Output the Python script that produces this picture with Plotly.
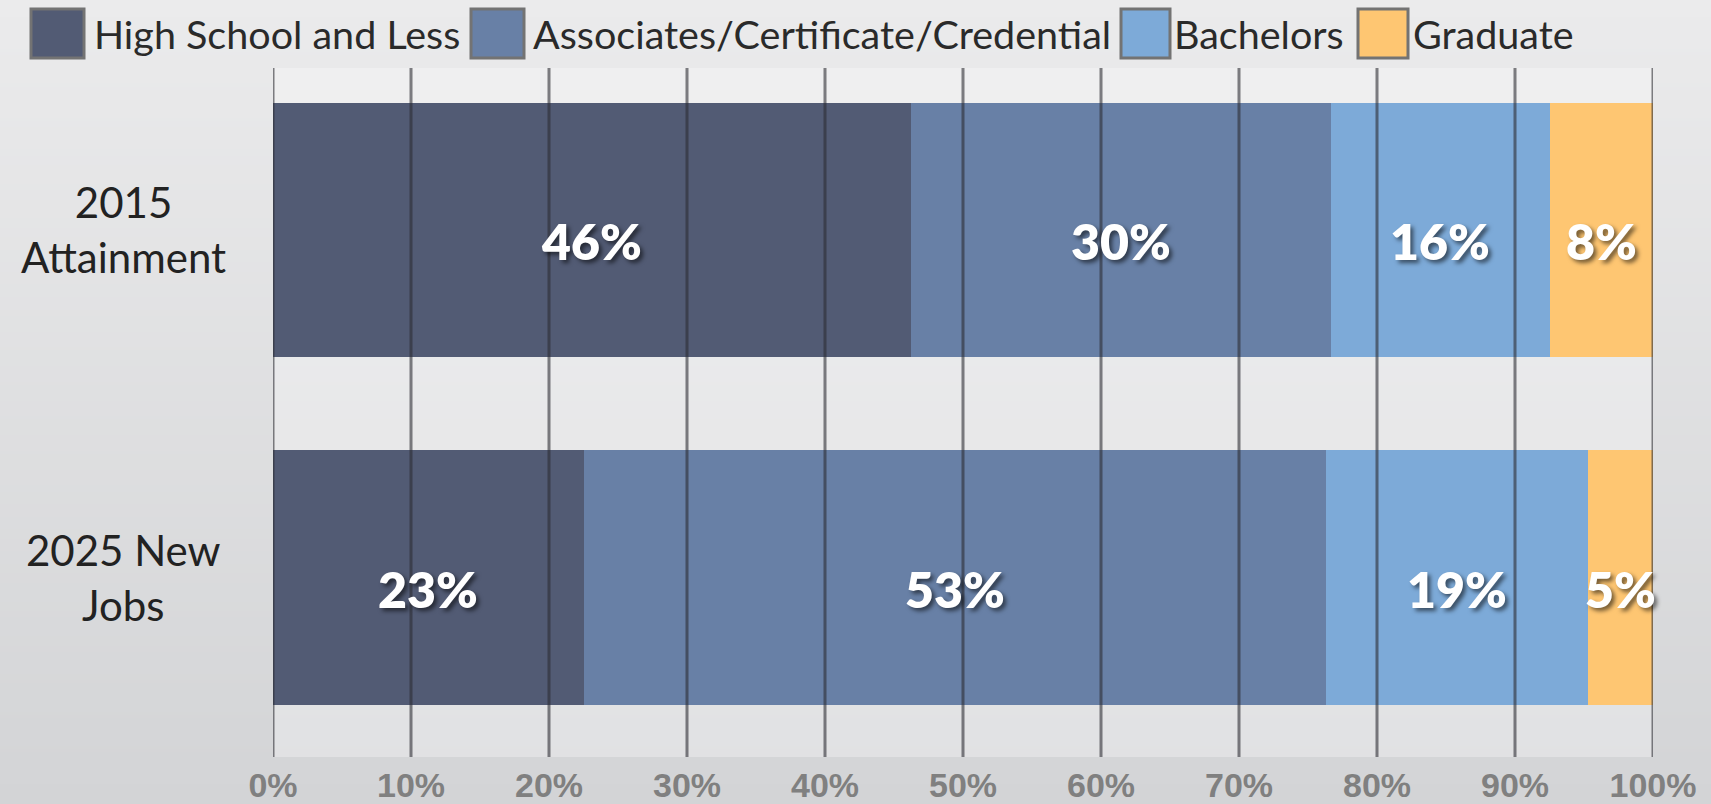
import base64
import struct
import zlib

import plotly.graph_objects as go

# ---------------- data ----------------
categories = ["2015<br>Attainment", "2025 New<br>Jobs"]
series_names = ["High School and Less", "Associates/Certificate/Credential", "Bachelors", "Graduate"]
high_school = [46.2, 22.5]
associates = [30.5, 53.8]
bachelors = [15.8, 19.0]
graduate = [7.5, 4.7]
high_school_labels = ["46%", "23%"]
associates_labels = ["30%", "53%"]
bachelors_labels = ["16%", "19%"]
graduate_labels = ["8%", "5%"]
tick_vals = [0, 10, 20, 30, 40, 50, 60, 70, 80, 90, 100]
tick_labels = ["0%", "10%", "20%", "30%", "40%", "50%", "60%", "70%", "80%", "90%", "100%"]

series_values = [high_school, associates, bachelors, graduate]
series_labels = [high_school_labels, associates_labels, bachelors_labels, graduate_labels]
colors = ["#525B74", "#6880A6", "#7DAAD8", "#FEC672"]

# ---------------- geometry ----------------
W, H = 1711, 804
L, R, T, B = 273, 58, 68, 47
PW, PH = W - L - R, H - T - B


def pxx(px):
    return (px - L) / PW


def pxy(py):
    return (H - B - py) / PH


# ---------------- background gradient (PNG data URI) ----------------
def gradient_png(top, bottom, n=256):
    rows = []
    for i in range(n):
        t = i / (n - 1)
        c = bytes(int(round(top[k] + (bottom[k] - top[k]) * t)) for k in range(3))
        rows.append(b"\x00" + c)
    raw = b"".join(rows)

    def chunk(tag, data):
        return (struct.pack(">I", len(data)) + tag + data
                + struct.pack(">I", zlib.crc32(tag + data) & 0xFFFFFFFF))

    png = (b"\x89PNG\r\n\x1a\n"
           + chunk(b"IHDR", struct.pack(">IIBBBBB", 1, n, 8, 2, 0, 0, 0))
           + chunk(b"IDAT", zlib.compress(raw))
           + chunk(b"IEND", b""))
    return "data:image/png;base64," + base64.b64encode(png).decode()


bg_src = gradient_png((235, 235, 236), (211, 212, 214))

fig = go.Figure()
for name, vals, color in zip(series_names, series_values, colors):
    fig.add_trace(go.Bar(
        y=categories, x=vals, name=name, orientation="h",
        marker=dict(color=color, line=dict(width=0)),
        width=0.731, hoverinfo="skip", showlegend=False,
    ))

annotations = []
# bar value labels (centered on each segment, via data coords)
for ci, cat in enumerate(categories):
    left = 0.0
    for vals, labs in zip(series_values, series_labels):
        v = vals[ci]
        annotations.append(dict(
            x=left + v / 2, y=cat, xref="x", yref="y", text=labs[ci],
            showarrow=False, xanchor="center", yanchor="middle", yshift=-11,
            font=dict(family="Lato", size=50, color="white", weight=800,
                      shadow="3px 3px 4px rgba(0,0,0,0.55)"),
        ))
        left += v

# category labels (centered, multi-line)
for cat in categories:
    annotations.append(dict(
        x=pxx(123), y=cat, xref="paper", yref="y", text=cat,
        showarrow=False, xanchor="center", yanchor="middle", align="center",
        font=dict(family="Lato", size=42, color="#222222"),
    ))

# legend (manual, large swatches)
swatches = [(31, 84), (471, 524), (1121, 1170), (1358, 1408)]
text_x = [92, 531, 1172, 1411]
shapes = [dict(
    type="rect", xref="paper", yref="paper", x0=0, x1=1, y0=0, y1=1,
    fillcolor="rgba(255,255,255,0.3)", line=dict(width=0), layer="below",
)]
for (x0, x1), tx, name, color in zip(swatches, text_x, series_names, colors):
    shapes.append(dict(
        type="rect", xref="paper", yref="paper",
        x0=pxx(x0), x1=pxx(x1), y0=pxy(58), y1=pxy(9),
        fillcolor=color, line=dict(color="#737373", width=3), layer="above",
    ))
    annotations.append(dict(
        x=pxx(tx), y=pxy(33), xref="paper", yref="paper", text=name,
        showarrow=False, xanchor="left", yanchor="middle",
        font=dict(family="Lato", size=39.5, color="#2a2a2a"),
    ))

# vertical gridlines drawn over bars
for v in tick_vals:
    shapes.append(dict(
        type="line", xref="x", yref="paper", x0=v, x1=v, y0=0, y1=1,
        line=dict(color="rgba(45,45,52,0.6)", width=3), layer="above",
    ))

fig.update_layout(
    width=W, height=H,
    margin=dict(l=L, r=R, t=T, b=B, autoexpand=False),
    barmode="stack",
    paper_bgcolor="#e2e3e4",
    plot_bgcolor="rgba(0,0,0,0)",
    showlegend=False,
    images=[dict(
        source=bg_src, xref="paper", yref="paper",
        x=-L / PW, y=1 + T / PH, sizex=W / PW, sizey=H / PH,
        xanchor="left", yanchor="top", sizing="stretch", layer="below",
    )],
    xaxis=dict(
        range=[0, 100], tickvals=tick_vals, ticktext=tick_labels,
        showgrid=False, zeroline=False, showline=False, ticks="",
        tickfont=dict(family="Liberation Sans", size=34, color="#808080", weight="bold"),
        ticklabelstandoff=5, fixedrange=True, automargin=False,
    ),
    yaxis=dict(
        type="category", categoryorder="array", categoryarray=categories,
        range=[1.5165, -0.466], showticklabels=False, showgrid=False,
        zeroline=False, showline=False, ticks="", fixedrange=True,
        automargin=False,
    ),
    shapes=shapes,
    annotations=annotations,
)

fig.write_html(
    "out.html",
    config={"displayModeBar": False},
    post_script="document.body.style.margin='0';document.body.style.overflow='hidden';",
)
